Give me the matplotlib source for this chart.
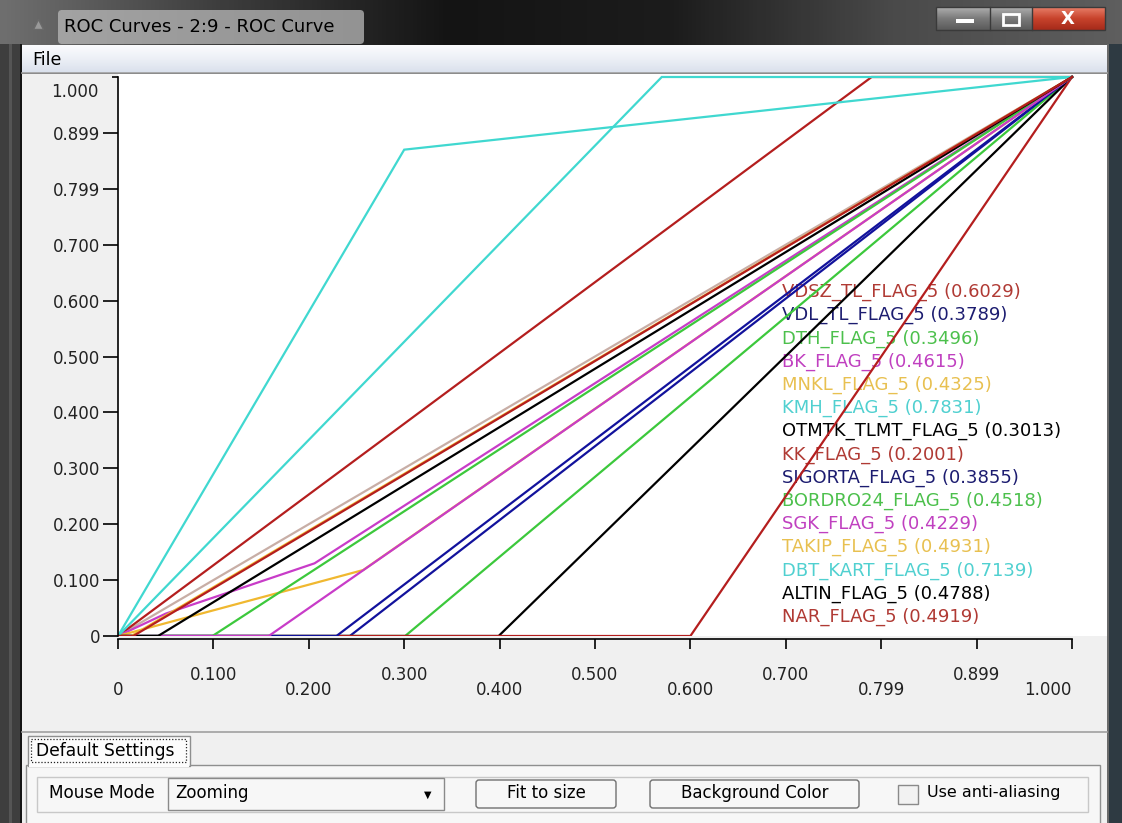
import numpy as np
import matplotlib
matplotlib.use('Agg')
import matplotlib.pyplot as plt
from matplotlib.patches import Rectangle, FancyBboxPatch
from matplotlib.colors import LinearSegmentedColormap

plt.rcParams['font.family'] = ['DejaVu Sans']

# ---------------------------------------------------------------
# ROC data (fpr / tpr points)
# ---------------------------------------------------------------
names = ['VDSZ_TL_FLAG_5', 'VDL_TL_FLAG_5', 'DTH_FLAG_5', 'BK_FLAG_5',
         'MNKL_FLAG_5', 'KMH_FLAG_5', 'OTMTK_TLMT_FLAG_5', 'KK_FLAG_5',
         'SIGORTA_FLAG_5', 'BORDRO24_FLAG_5', 'SGK_FLAG_5', 'TAKIP_FLAG_5',
         'DBT_KART_FLAG_5', 'ALTIN_FLAG_5', 'NAR_FLAG_5']
aucs = [0.6029, 0.3789, 0.3496, 0.4615, 0.4325, 0.7831, 0.3013, 0.2001,
        0.3855, 0.4518, 0.4229, 0.4931, 0.7139, 0.4788, 0.4919]

fpr = [[0, 0.79, 1], [0, 0.243, 1], [0, 0.301, 1], [0, 0.05, 0.206, 1],
       [0, 0.257, 1], [0, 0.30, 1], [0, 0.399, 1], [0, 0.60, 1],
       [0, 0.229, 1], [0, 0.099, 1], [0, 0.158, 1], [0, 0.014, 1],
       [0, 0.57, 1], [0, 0.042, 1], [0, 0.016, 1]]
tpr = [[0, 1, 1], [0, 0, 1], [0, 0, 1], [0, 0.04, 0.13, 1],
       [0, 0.118, 1], [0, 0.87, 1], [0, 0, 1], [0, 0, 1],
       [0, 0, 1], [0, 0, 1], [0, 0, 1], [0, 0, 1],
       [0, 1, 1], [0, 0, 1], [0, 0, 1]]

diag = [0, 1]

palette = ['#b41e1e', '#12129c', '#3cc83c', '#c83cc8', '#f0b830', '#40d8d0', '#000000']
text_palette = ['#b03a34', '#1c1c70', '#4cc04c', '#c040c0', '#e8c050', '#50d0d0', '#000000']
colors = [palette[i % len(palette)] for i in range(len(names))]
text_colors = [text_palette[i % len(text_palette)] for i in range(len(names))]

xticks = np.arange(11) / 10
xlabels = ['0', '0.100', '0.200', '0.300', '0.400', '0.500', '0.600',
           '0.700', '0.799', '0.899', '1.000']
ylabels = ['0', '0.100', '0.200', '0.300', '0.400', '0.500', '0.600',
           '0.700', '0.799', '0.899', '']

# ---------------------------------------------------------------
# window chrome (pixel coordinates)
# ---------------------------------------------------------------
W, H = 1122, 823
fig = plt.figure(figsize=(W / 100, H / 100), dpi=100)
fig.patch.set_facecolor('#2a2a2a')
bg = fig.add_axes([0, 0, 1, 1], zorder=-10)
bg.axis('off')


def rect(x0, y0, x1, y1, fc, ec='none', lw=1, **kw):
    bg.add_patch(Rectangle((x0, y0), x1 - x0, y1 - y0, facecolor=fc,
                           edgecolor=ec, linewidth=lw, **kw))


def grad(x0, y0, x1, y1, cols, horizontal=False):
    cm = LinearSegmentedColormap.from_list('g', cols)
    a = np.linspace(0, 1, 256)
    img = a[None, :] if horizontal else a[:, None]
    bg.imshow(img, cmap=cm, extent=(x0, x1, y1, y0), aspect='auto',
              interpolation='bilinear')


# title bar
grad(0, 0, W, 46, ['#6e6e6e', '#3c3c3c', '#141414', '#1c1c1c', '#4a4a4a', '#5e5e5e'], horizontal=True)
bg.add_patch(FancyBboxPatch((62, 14), 298, 26, boxstyle='round,pad=4',
                            facecolor='#b9b9b9', edgecolor='none', alpha=0.75))
bg.plot(38, 24, marker='^', ms=7, color='#9a9a9a', mec='#6a6a6a')
bg.text(64, 27, 'ROC Curves - 2:9 - ROC Curve', fontsize=13, va='center', color='#000000')

# caption buttons
grad(936, 7, 990, 30, ['#b0b0b0', '#7a7a7a', '#5a5a5a'])
grad(990, 7, 1032, 30, ['#b0b0b0', '#7a7a7a', '#5a5a5a'])
grad(1032, 7, 1105, 30, ['#e8806a', '#c8432c', '#a52a1a'])
rect(936, 7, 1105, 30, 'none', ec='#3a3a3a', lw=1)
bg.plot([990, 990], [7, 30], color='#3a3a3a', lw=1)
bg.plot([1032, 1032], [7, 30], color='#3a3a3a', lw=1)
rect(956, 19, 974, 23, '#ffffff')
rect(1003, 14, 1019, 25, 'none', ec='#ffffff', lw=2)
bg.text(1068, 19, 'X', fontsize=13, fontweight='bold', color='white',
        ha='center', va='center')

# side frames
rect(0, 44, 22, H, '#3e3e3e')
rect(9, 44, 12, H, '#555555')
rect(20, 44, 22, H, '#151515')
rect(1107, 44, W, H, '#2e3a42')
rect(1107, 44, 1109, H, '#6a6a6a')

# menu bar
grad(22, 45, 1107, 73, ['#fbfcfe', '#eceff6', '#d9e0ec'])
bg.plot([22, 1107], [73, 73], color='#a0a0a0', lw=1.2)
bg.text(32, 60, 'File', fontsize=12.5, va='center', color='#000000')

# plot panel and lower panel
rect(22, 74, 1107, 732, '#f0f0f0')
rect(22, 732, 1107, H, '#f0f0f0')
bg.plot([22, 1107], [732, 732], color='#a0a0a0', lw=1.2)

# tab
rect(26, 765, 1100, H + 5, '#f7f7f7', ec='#8e8f8f')
rect(28, 736, 190, 766, '#fcfcfc', ec='#8e8f8f')
rect(29, 764, 189, 767, '#fcfcfc')
bg.add_patch(Rectangle((31, 739), 155, 23, fill=False, edgecolor='#222222',
                       linewidth=0.9, linestyle=(0, (1, 1.5))))
bg.text(36, 751, 'Default Settings', fontsize=12.3, va='center')

# group box with controls
rect(37, 777, 1088, 812, 'none', ec='#c8c8c8')
bg.text(49, 793, 'Mouse Mode', fontsize=12.2, va='center')
grad(168, 778, 444, 810, ['#f6f6f6', '#e6e6e6', '#d8d8d8'])
rect(168, 778, 444, 810, 'none', ec='#8a8a8a')
bg.text(175, 793, 'Zooming', fontsize=12, va='center')
bg.text(428, 795, '\u25bc', fontsize=7, ha='center', va='center')

for (x0, x1, lab) in [(476, 616, 'Fit to size'), (650, 859, 'Background Color')]:
    grad(x0, 780, x1, 808, ['#f4f4f4', '#e8e8e8', '#d6d6d6'])
    bg.add_patch(FancyBboxPatch((x0, 780), x1 - x0, 28, boxstyle='round,pad=0,rounding_size=3',
                                fill=False, edgecolor='#707070', linewidth=1))
    bg.text((x0 + x1) / 2, 793, lab, fontsize=12, ha='center', va='center')

rect(898, 785, 918, 804, '#f2f2f2', ec='#8a8a8a')
bg.text(927, 793, 'Use anti-aliasing', fontsize=11.5, va='center')

bg.text(99, 92, '1.000', fontsize=12, ha='right', va='center', color='#222222')

bg.set_xlim(0, W)
bg.set_ylim(H, 0)

# ---------------------------------------------------------------
# ROC plot
# ---------------------------------------------------------------
ax = fig.add_axes([118 / W, (H - 636) / H, (1107 - 118) / W, (636 - 74) / H])
ax.set_facecolor('white')
ax.set_xlim(0, (1107 - 118) / 954)
ax.set_ylim(0, (636 - 74) / 559)

ax.plot(diag, diag, color='#c8aea6', lw=1.6, zorder=1.8)
for fx, ty, c in zip(fpr, tpr, colors):
    ax.plot(fx, ty, color=c, lw=1.6, solid_joinstyle='miter', zorder=2)

for i, (n, a, c) in enumerate(zip(names, aucs, text_colors)):
    ax.text(782, 292 + 23.2 * i, '%s (%.4f)' % (n, a), transform=bg.transData,
            fontsize=13, color=c, va='center', ha='left', zorder=1.5)

for s in ['top', 'right']:
    ax.spines[s].set_visible(False)
ax.spines['left'].set_bounds(0, 1)
ax.spines['bottom'].set_bounds(0, 1)
ax.spines['bottom'].set_position(('outward', 2))
ax.spines['left'].set_linewidth(1.2)
ax.spines['bottom'].set_linewidth(1.2)

ax.set_xticks(xticks, xlabels)
ax.set_yticks(xticks, ylabels)
ax.tick_params(axis='x', length=7.2, width=1.2, labelsize=12, labelcolor='#222222')
ax.tick_params(axis='y', length=10.8, width=1.2, pad=2.2, labelsize=12, labelcolor='#222222')

xt = ax.xaxis.get_major_ticks()
for i, t in enumerate(xt):
    t.set_pad(12.5 if i % 2 else 23)
xt[-1].label1.set_horizontalalignment('right')
ax.yaxis.get_major_ticks()[-1].tick1line.set_markersize(4)

fig.savefig('out.png', dpi=100, facecolor=fig.get_facecolor())
